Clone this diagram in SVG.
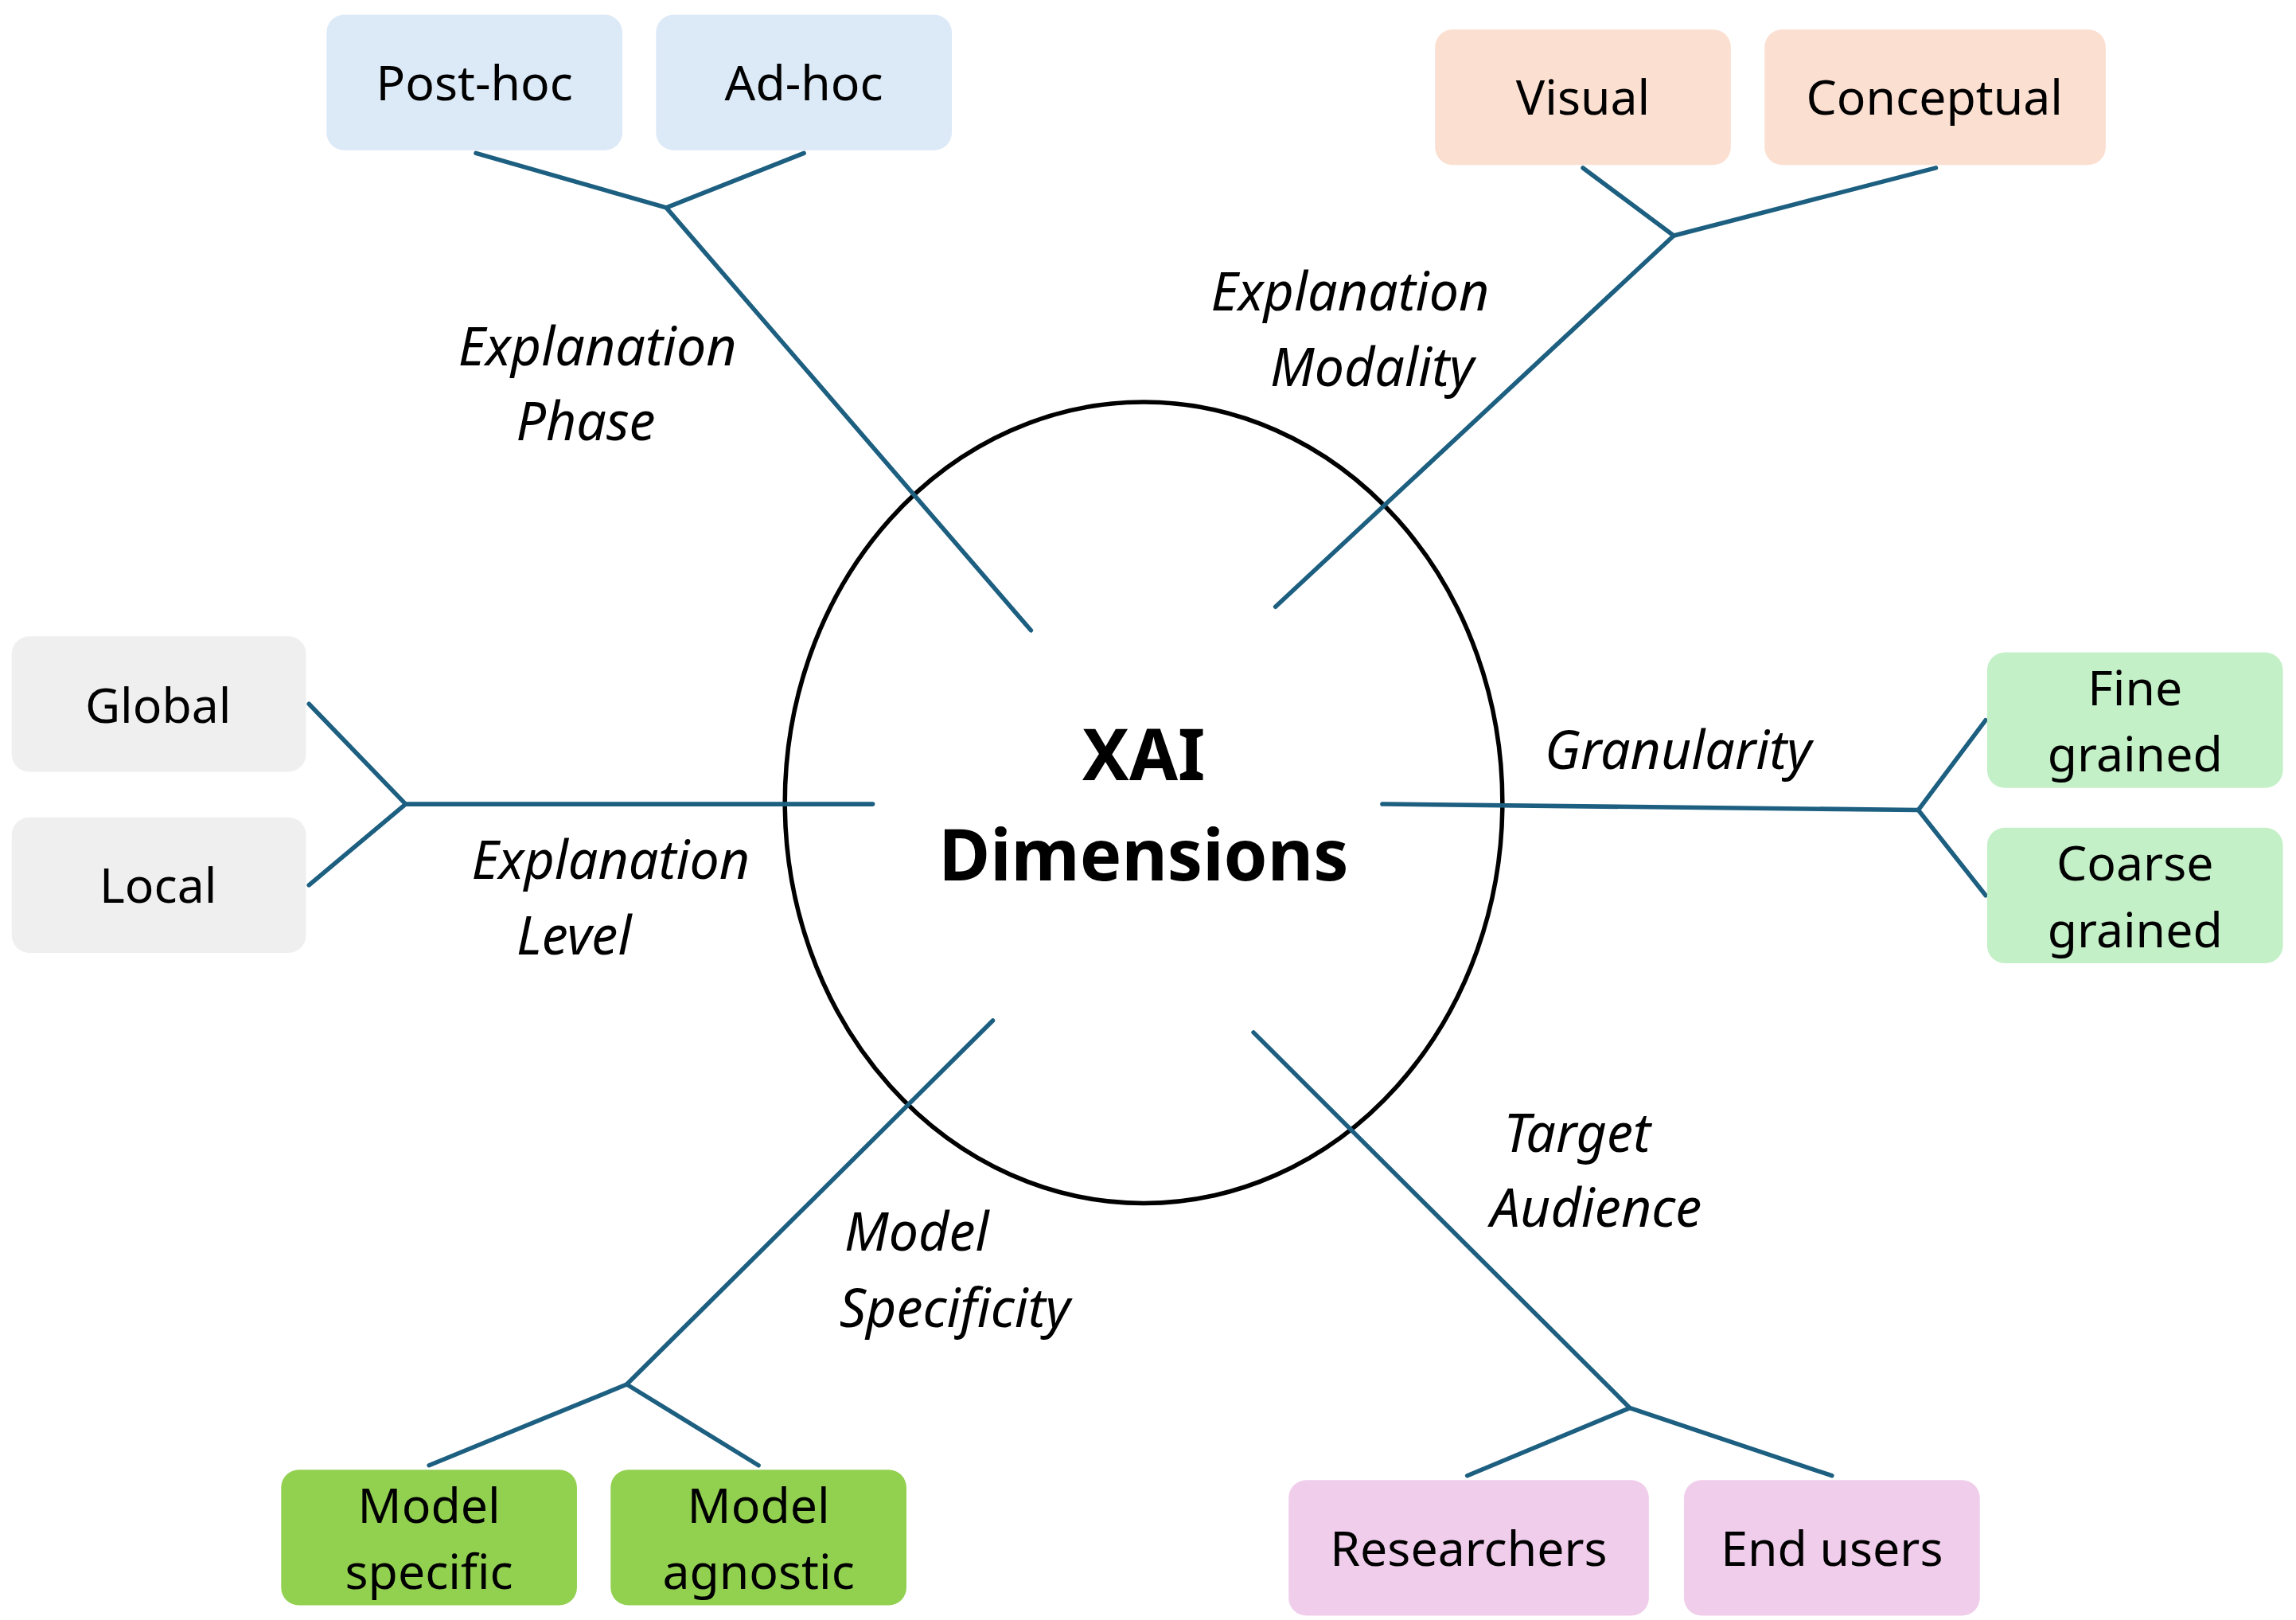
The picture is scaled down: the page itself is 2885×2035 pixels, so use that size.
<svg xmlns="http://www.w3.org/2000/svg" width="2885" height="2035" viewBox="0 0 2885 2035">
<style>
.b{stroke:none}
.t{font-family:"Noto Sans","Open Sans",sans-serif;font-size:33px;fill:#000;text-anchor:middle}
.l{font-family:"Noto Sans","Open Sans",sans-serif;font-size:36px;font-style:italic;fill:#000;text-anchor:middle}
.c{fill:none;stroke:#1d5f80;stroke-width:3;stroke-linecap:round;stroke-linejoin:round}
</style>
<rect width="2885" height="2035" fill="#fff"/>
<g transform="scale(1.84,1.85)">
<g id="center">
<ellipse cx="781" cy="545" rx="245" ry="272" fill="none" stroke="#000" stroke-width="3"/>
<text x="781" y="530" font-family="Noto Sans,sans-serif" font-weight="bold" font-size="48" text-anchor="middle">XAI</text>
<text x="781" y="598" font-family="Noto Sans,sans-serif" font-weight="bold" font-size="48" text-anchor="middle">Dimensions</text>
</g>
<g id="connectors">
<polyline class="c" points="325,104 455,141 549,104"/><line class="c" x1="455" y1="141" x2="704" y2="428"/>
<polyline class="c" points="1081,114 1143,160 1322,114"/><line class="c" x1="1143" y1="160" x2="871" y2="412"/>
<polyline class="c" points="211,478 277,546 211,601"/><line class="c" x1="277" y1="546" x2="596" y2="546"/>
<polyline class="c" points="1356,489 1310,550 1356,608"/><line class="c" x1="944" y1="546" x2="1310" y2="550"/>
<polyline class="c" points="293,995 428,940 518,995"/><line class="c" x1="428" y1="940" x2="678" y2="693"/>
<polyline class="c" points="1002,1002 1113,956 1251,1002"/><line class="c" x1="1113" y1="956" x2="856" y2="701"/>
</g>
<g id="labels">
<text class="l" x="408" y="248">Explanation</text><text class="l" x="400" y="299">Phase</text>
<text class="l" x="922" y="211">Explanation</text><text class="l" x="937" y="262">Modality</text>
<text class="l" x="417" y="597">Explanation</text><text class="l" x="392" y="648">Level</text>
<text class="l" x="1146" y="522">Granularity</text>
<text class="l" x="1077" y="782">Target</text><text class="l" x="1090" y="833">Audience</text>
<text class="l" x="626" y="849">Model</text><text class="l" x="652" y="901">Specificity</text>
</g>
<g id="posthoc"><rect x="223" y="10" width="202" height="92" rx="12" fill="#dce9f6"/><text class="t" x="324" y="68">Post-hoc</text></g>
<g id="adhoc"><rect x="448" y="10" width="202" height="92" rx="12" fill="#dce9f6"/><text class="t" x="549" y="68">Ad-hoc</text></g>
<g id="visual"><rect x="980" y="20" width="202" height="92" rx="12" fill="#fbe0d2"/><text class="t" x="1081" y="78">Visual</text></g>
<g id="conceptual"><rect x="1205" y="20" width="233" height="92" rx="12" fill="#fbe0d2"/><text class="t" x="1321" y="78">Conceptual</text></g>
<g id="global"><rect x="8" y="432" width="201" height="92" rx="12" fill="#efefef"/><text class="t" x="108" y="491">Global</text></g>
<g id="local"><rect x="8" y="555" width="201" height="92" rx="12" fill="#efefef"/><text class="t" x="108" y="613">Local</text></g>
<g id="fine"><rect x="1357" y="443" width="202" height="92" rx="12" fill="#c4f0c8"/><text class="t" x="1458" y="479">Fine</text><text class="t" x="1458" y="524">grained</text></g>
<g id="coarse"><rect x="1357" y="562" width="202" height="92" rx="12" fill="#c4f0c8"/><text class="t" x="1458" y="598">Coarse</text><text class="t" x="1458" y="643">grained</text></g>
<g id="specific"><rect x="192" y="998" width="202" height="92" rx="12" fill="#92d050"/><text class="t" x="293" y="1034">Model</text><text class="t" x="293" y="1079">specific</text></g>
<g id="agnostic"><rect x="417" y="998" width="202" height="92" rx="12" fill="#92d050"/><text class="t" x="518" y="1034">Model</text><text class="t" x="518" y="1079">agnostic</text></g>
<g id="researchers"><rect x="880" y="1005" width="246" height="92" rx="12" fill="#f0cdeb"/><text class="t" x="1003" y="1063">Researchers</text></g>
<g id="endusers"><rect x="1150" y="1005" width="202" height="92" rx="12" fill="#f0cdeb"/><text class="t" x="1251" y="1063">End users</text></g>
</g>
</svg>
